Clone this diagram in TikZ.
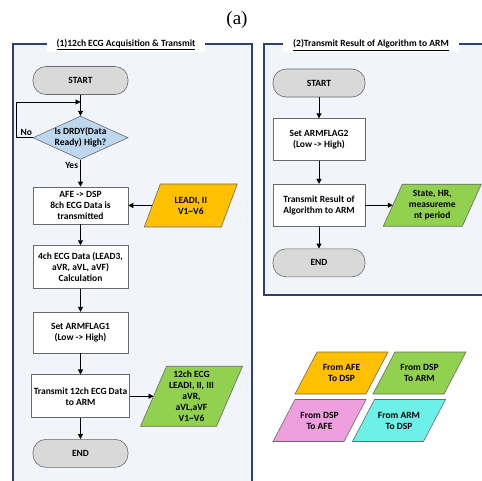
\documentclass[tikz,border=0pt]{standalone}
\usepackage{fontspec}
\setmainfont{Carlito}
\newfontfamily\capfont{Liberation Serif}
\usepackage{tikz}
\usepackage{xcolor}
\usetikzlibrary{shapes.geometric, arrows.meta, positioning}

\definecolor{framec}{RGB}{44,66,118}
\definecolor{panelc}{RGB}{241,245,251}
\definecolor{termc}{RGB}{217,217,217}
\definecolor{decc}{RGB}{189,215,238}
\definecolor{afec}{RGB}{255,192,0}
\definecolor{dspc}{RGB}{146,208,80}
\definecolor{pinkc}{RGB}{238,160,222}
\definecolor{cyanc}{RGB}{108,240,232}
\definecolor{linec}{RGB}{105,105,105}

\pgfdeclarelayer{back}
\pgfdeclarelayer{mid}
\pgfsetlayers{back,mid,main}

\tikzset{
  term/.style={rectangle, rounded corners=13pt, draw=linec, fill=termc,
               minimum width=95pt, minimum height=28pt, line width=0.6pt},
  process/.style={rectangle, draw=linec, fill=white, align=center,
                  minimum width=95pt, line width=0.6pt, inner sep=2pt},
  decision/.style={diamond, draw=linec, fill=decc, align=center, aspect=2.2,
                   inner sep=0pt, minimum width=93pt, minimum height=42pt,
                   line width=0.6pt},
  % parallelogram: #1 fill, #2 half of the slant
  dataio/.style 2 args={rectangle, align=center, inner sep=1pt, outer sep=0pt,
    minimum height=42pt,
    append after command={\pgfextra{\edef\dataname{\tikzlastnode}%
      \begin{pgfonlayer}{mid}
        \draw[draw=linec, line width=0.6pt, fill=#1]
          ([xshift=-#2]\dataname.south west) -- ([xshift=-#2]\dataname.south east)
          -- ([xshift=#2]\dataname.north east) -- ([xshift=#2]\dataname.north west)
          -- cycle;
      \end{pgfonlayer}}}},
  arrow/.style={-{Triangle[length=5pt,width=5pt]}, line width=0.9pt},
  panel/.style={draw=framec, line width=1.4pt},
  paneltitle/.style={fill=white, inner xsep=10pt, inner ysep=2pt},
}

\begin{document}
\begin{tikzpicture}[x=1pt, y=-1pt, font=\fontsize{9.5}{11}\selectfont\bfseries]
  \useasboundingbox (0,0) rectangle (482,480);

  % panels
  \begin{pgfonlayer}{back}
    \fill[panelc] (13,44) rectangle (252,482);
    \draw[panel] (13,482) -- (13,44) -- (252,44) -- (252,482);
    \fill[panelc] (264,44) rectangle (484,295);
    \draw[panel] (484,295) -- (264,295) -- (264,44) -- (484,44);
  \end{pgfonlayer}
  \node[paneltitle] (titleA) at (126,45) {\underline{(1)12ch ECG Acquisition \& Transmit}};
  \node[paneltitle] (titleB) at (371,45) {\underline{(2)Transmit Result of Algorithm to ARM}};

  \node[font=\capfont\fontsize{19}{19}\selectfont] (cap) at (237,20) {(a)};

  % (1) acquisition flow
  \node[term] (startA) at (80.5,80.5) {START};
  \node[decision, below=21pt of startA] (drdy) {Is DRDY(Data\\Ready) High?};
  \node[process, below=27pt of drdy, minimum height=37pt] (afe)
    {AFE -> DSP\\8ch ECG Data is\\transmitted};
  \node[process, below=21pt of afe, minimum height=43pt] (calc)
    {4ch ECG Data (LEAD3,\\aVR, aVL, aVF)\\Calculation};
  \node[process, below=23pt of calc, minimum height=41pt] (flagA)
    {Set ARMFLAG1\\(Low -> High)};
  \node[process, below=21pt of flagA, minimum height=43pt] (sendA)
    {Transmit 12ch ECG Data\\to ARM};
  \node[term, below=21pt of sendA] (endA) {END};

  \node[dataio={afec}{8pt}, right=24pt of afe, minimum width=77pt,
        minimum height=43pt] (leadsin) {LEADI, II\\V1\textasciitilde V6};
  \node[dataio={dspc}{13pt}, right=24pt of sendA, minimum width=76pt,
        minimum height=60pt] (leadsout)
    {12ch ECG\\LEADI, II, III\\aVR,\\aVL,aVF\\V1\textasciitilde V6};

  \coordinate (loopin) at (80.5,102);
  \draw[arrow] (startA) -- (drdy);
  \draw[arrow] (drdy.west) -- ++(-16,0) node[above, pos=0.4, inner sep=1.5pt] {No}
    |- (loopin);
  \draw[arrow] (drdy) -- (afe) node[left, pos=0.22, inner sep=2pt] {Yes};
  \foreach \a/\b in {afe/calc, calc/flagA, flagA/sendA, sendA/endA}
    \draw[arrow] (\a) -- (\b);
  \draw[arrow] (leadsin) -- (afe);
  \draw[arrow] (sendA) -- (leadsout);

  % (2) result flow
  \node[term, minimum width=92pt] (startB) at (319,83) {START};
  \node[process, below=21pt of startB, minimum width=92pt, minimum height=42pt] (flagB)
    {Set ARMFLAG2\\(Low -> High)};
  \node[process, below=23pt of flagB, minimum width=92pt, minimum height=42pt] (sendB)
    {Transmit Result of\\Algorithm to ARM};
  \node[term, below=22pt of sendB, minimum width=92pt] (endB) {END};
  \node[dataio={dspc}{9.5pt}, right=27.5pt of sendB, minimum width=79pt] (result)
    {State, HR,\\measureme\\nt period};

  \foreach \a/\b in {startB/flagB, flagB/sendB, sendB/endB, sendB/result}
    \draw[arrow] (\a) -- (\b);

  % legend
  \node[dataio={afec}{11pt}, minimum width=71pt] (keyafe) at (341.5,373) {From AFE\\To DSP};
  \node[dataio={dspc}{11pt}, minimum width=71pt] (keydsp) at (419.5,373) {From DSP\\To ARM};
  \node[dataio={pinkc}{11pt}, minimum width=71pt] (keyback) at (319.5,420.5) {From DSP\\To AFE};
  \node[dataio={cyanc}{11pt}, minimum width=71pt] (keyarm) at (399,420.5) {From ARM\\To DSP};
\end{tikzpicture}
\end{document}
